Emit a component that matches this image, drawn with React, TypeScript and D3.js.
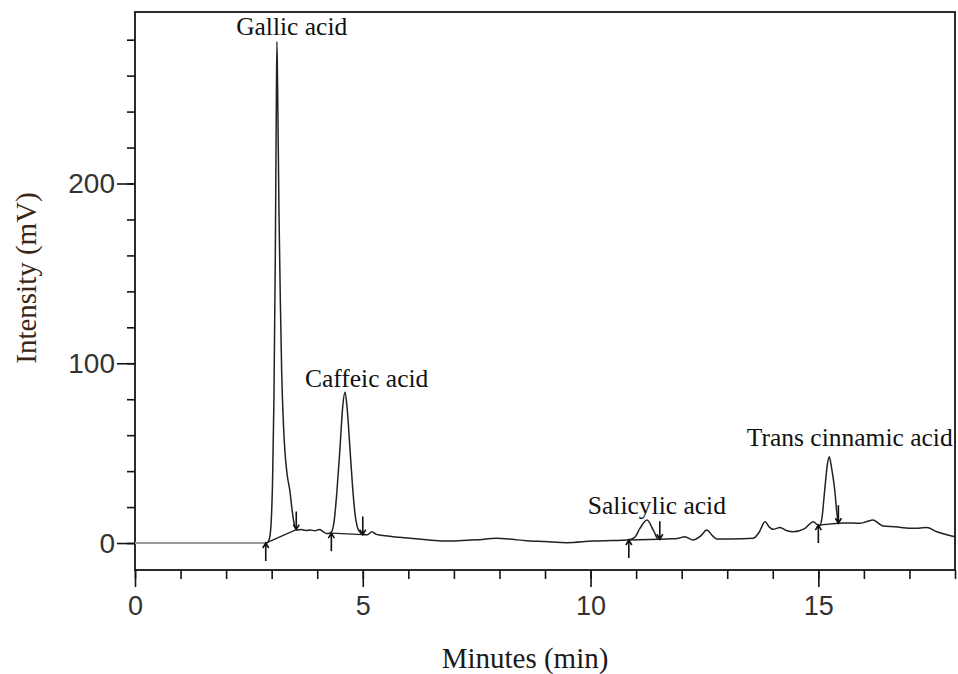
import React, { useRef, useEffect } from "react";
import * as d3 from "d3";

// retention time (min) and detector signal (mV)
const times = [
  0, 2.9, 2.94, 2.98, 3.02, 3.05, 3.08, 3.1, 3.115, 3.13, 3.16, 3.19, 3.22, 3.26, 3.3, 3.34, 3.4,
  3.45, 3.5, 3.56, 3.65, 3.75, 3.85, 3.95, 4.05, 4.12, 4.2, 4.28, 4.33, 4.38, 4.43, 4.5, 4.56,
  4.61, 4.66, 4.72, 4.78, 4.83, 4.88, 4.94, 5.0, 5.1, 5.2, 5.3, 5.5, 5.8, 6.04, 6.4, 6.76, 7.1,
  7.5, 7.94, 8.2, 8.6, 9.0, 9.48, 10.05, 10.5, 10.8, 10.97, 11.08, 11.24, 11.38, 11.49, 11.7,
  11.9, 12.07, 12.25, 12.42, 12.55, 12.68, 12.77, 13.1, 13.57, 13.7, 13.83, 13.92, 14.01, 14.16,
  14.3, 14.45, 14.7, 14.89, 14.96, 15.03, 15.08, 15.14, 15.2, 15.24, 15.29, 15.36, 15.41, 15.44,
  15.6, 15.91, 16.05, 16.2, 16.32, 16.42, 16.7, 17.0, 17.2, 17.38, 17.6, 17.8, 18.0,
];
const signal = [
  0, 0, 1.5, 8, 35, 80, 160, 235, 279, 255, 185, 135, 95, 65, 48, 38, 29,
  18, 10, 7.2, 7.5, 7, 7.3, 6.8, 7.5, 6.5, 5.3, 5.6, 7, 14, 28, 53, 76,
  84, 74, 52, 30, 16, 9, 6, 4.8, 4.6, 6.3, 4.8, 4, 3.2, 2.6, 1.8, 1.1, 1.3,
  1.8, 2.6, 2.2, 1.3, 0.8, 0.2, 1.1, 1.4, 1.7, 3.2, 8, 12.8, 7, 2.1, 2.3,
  2.5, 3.5, 1.7, 4, 7.2, 4, 2.2, 2.2, 2.6, 6, 11.9, 9, 7.6, 8.7,
  7, 6.3, 8, 11.9, 10.5, 9.5, 14, 29.5, 44, 48, 42, 29.5, 16, 11,
  11.2, 11, 11.8, 12.8, 11, 9.5, 9, 8.2, 8.2, 8.7, 6.3, 4.8, 3.5,
];

// integration marks: start (up arrow) and end (down arrow) of each peak
const peakStartT = [2.87, 4.31, 10.84, 15.0];
const peakStartV = [0, 5.5, 1.7, 10];
const peakEndT = [3.54, 5.0, 11.52, 15.44];
const peakEndV = [7.5, 4.7, 2.1, 11];

// compound labels, anchored at text start (min, mV)
const labelNames = ["Gallic acid", "Caffeic acid", "Salicylic acid", "Trans cinnamic acid"];
const labelT = [2.22, 3.73, 9.94, 13.43];
const labelV = [282.6, 86.8, 16.1, 54];

const xMajor = [0, 5, 10, 15];
const xMinor = d3.range(0, 19, 1);
const yMajor = [0, 100, 200];
const yMinor = d3.range(0, 300, 20);

export default function App() {
  const svgRef = useRef<SVGSVGElement>(null);

  useEffect(() => {
    const svg = d3.select(svgRef.current);
    svg.selectAll("*").remove();

    const margin = { left: 135, right: 3, top: 12, bottom: 104 };
    const width = 958;
    const height = 674;

    const x = d3.scaleLinear().domain([0, 18]).range([margin.left, width - margin.right]);
    const y = d3
      .scaleLinear()
      .domain([-15, 295.4])
      .range([height - margin.bottom, margin.top]);

    const ink = "#151515";
    const tickFont = "'Liberation Sans', Arial, sans-serif";
    const serif = "'Liberation Serif', 'Times New Roman', serif";

    // x axis: minor then major ticks
    svg
      .append("g")
      .attr("transform", `translate(0,${y.range()[0]})`)
      .call(d3.axisBottom(x).tickValues(xMinor).tickSize(9).tickFormat(() => ""))
      .call((g) => g.select(".domain").remove())
      .call((g) => g.selectAll("line").attr("stroke", ink).attr("stroke-width", 1.6));

    svg
      .append("g")
      .attr("transform", `translate(0,${y.range()[0]})`)
      .call(d3.axisBottom(x).tickValues(xMajor).tickSize(17).tickPadding(9))
      .call((g) => g.select(".domain").remove())
      .call((g) => g.selectAll("line").attr("stroke", ink).attr("stroke-width", 1.6))
      .call((g) =>
        g
          .selectAll("text")
          .attr("fill", "#333")
          .attr("font-family", tickFont)
          .attr("font-size", 27)
      );

    // y axis
    svg
      .append("g")
      .attr("transform", `translate(${margin.left},0)`)
      .call(d3.axisLeft(y).tickValues(yMinor).tickSize(8).tickFormat(() => ""))
      .call((g) => g.select(".domain").remove())
      .call((g) => g.selectAll("line").attr("stroke", ink).attr("stroke-width", 1.6));

    svg
      .append("g")
      .attr("transform", `translate(${margin.left},0)`)
      .call(d3.axisLeft(y).tickValues(yMajor).tickSize(18).tickPadding(2))
      .call((g) => g.select(".domain").remove())
      .call((g) => g.selectAll("line").attr("stroke", ink).attr("stroke-width", 1.6))
      .call((g) =>
        g
          .selectAll("text")
          .attr("fill", "#333")
          .attr("font-family", tickFont)
          .attr("font-size", 28)
      );

    // frame
    svg
      .append("rect")
      .attr("x", x(0))
      .attr("y", y(295.4))
      .attr("width", x(18) - x(0))
      .attr("height", y(-15) - y(295.4))
      .attr("fill", "none")
      .attr("stroke", ink)
      .attr("stroke-width", 1.8);

    const data = times.map((t, i) => ({ t, v: signal[i] }));
    const line = d3
      .line<{ t: number; v: number }>()
      .x((d) => x(d.t))
      .y((d) => y(d.v))
      .curve(d3.curveMonotoneX);

    // flat lead-in drawn in grey
    svg
      .append("path")
      .attr("d", line(data.filter((d) => d.t <= 2.9)))
      .attr("fill", "none")
      .attr("stroke", "#9a9a9a")
      .attr("stroke-width", 2);

    svg
      .append("path")
      .attr("d", line(data.filter((d) => d.t >= 2.9)))
      .attr("fill", "none")
      .attr("stroke", "#222")
      .attr("stroke-width", 1.5)
      .attr("stroke-linejoin", "round");

    // integration baselines
    peakStartT.forEach((t, i) => {
      svg
        .append("line")
        .attr("x1", x(t))
        .attr("y1", y(peakStartV[i]))
        .attr("x2", x(peakEndT[i]))
        .attr("y2", y(peakEndV[i]))
        .attr("stroke", "#222")
        .attr("stroke-width", 1.3);
    });

    // arrows
    const arrowLen = 18;
    const arrows = svg.append("g").attr("stroke", "#111").attr("stroke-width", 1.6).attr("fill", "none");
    peakStartT.forEach((t, i) => {
      const px = x(t);
      const py = y(peakStartV[i]);
      arrows.append("path").attr("d", `M${px},${py + arrowLen}V${py}M${px - 3},${py + 5}L${px},${py}L${px + 3},${py + 5}`);
    });
    peakEndT.forEach((t, i) => {
      const px = x(t);
      const py = y(peakEndV[i]);
      arrows.append("path").attr("d", `M${px},${py - arrowLen}V${py}M${px - 3},${py - 5}L${px},${py}L${px + 3},${py - 5}`);
    });

    // compound labels
    svg
      .append("g")
      .selectAll("text")
      .data(labelNames)
      .join("text")
      .attr("x", (_, i) => x(labelT[i]))
      .attr("y", (_, i) => y(labelV[i]))
      .attr("font-family", serif)
      .attr("font-size", 25.5)
      .attr("fill", "#111")
      .text((d) => d);

    // axis titles
    svg
      .append("text")
      .attr("x", 525)
      .attr("y", 668)
      .attr("text-anchor", "middle")
      .attr("font-family", serif)
      .attr("font-size", 29)
      .attr("fill", "#1a1a1a")
      .text("Minutes (min)");

    svg
      .append("text")
      .attr("transform", `translate(36,278) rotate(-90)`)
      .attr("text-anchor", "middle")
      .attr("font-family", serif)
      .attr("font-size", 29)
      .attr("fill", "#3a2616")
      .text("Intensity (mV)");
  }, []);

  return (
    <svg
      ref={svgRef}
      width={958}
      height={674}
      style={{ position: "absolute", left: 0, top: 0, background: "#fff" }}
    />
  );
}
